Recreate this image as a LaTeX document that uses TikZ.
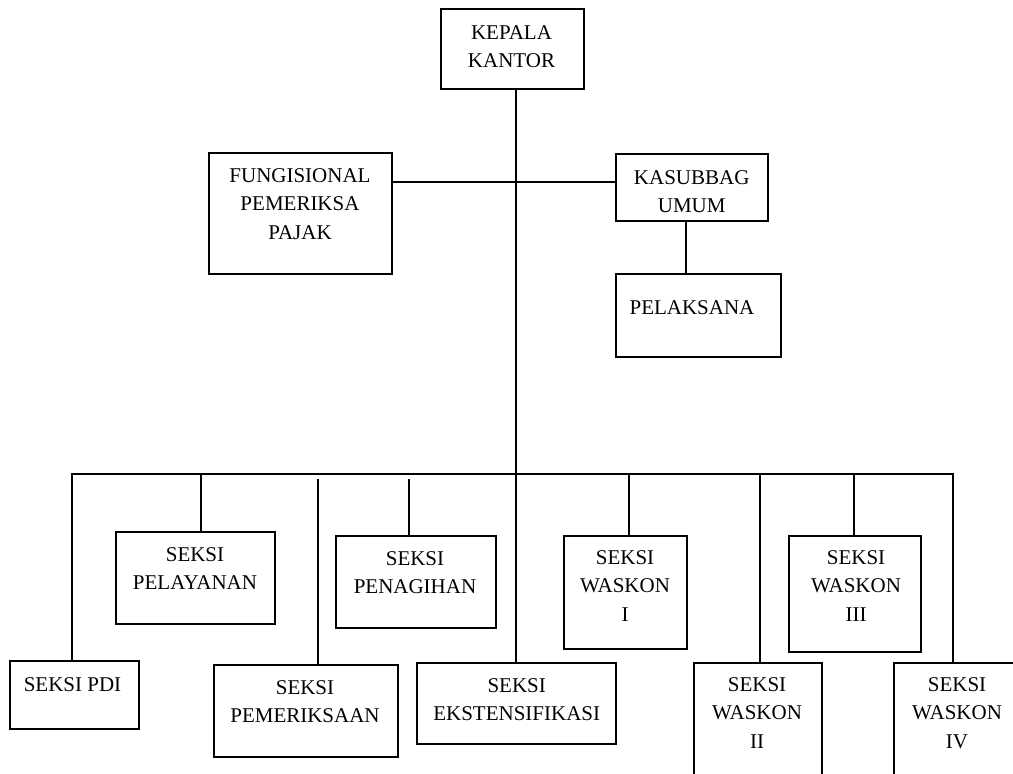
\documentclass[tikz,border=0pt]{standalone}
\usepackage{fontspec}
\setmainfont{Liberation Serif}
\begin{document}
\begin{tikzpicture}[x=1pt,y=-1pt,
  orgbox/.style 2 args={draw, line width=1.3pt, inner sep=0pt, minimum width=#1pt, minimum height=#2pt},
  lbl/.style={font=\fontsize{21}{28.5}\selectfont, align=center, inner sep=0pt, anchor=north},
  conn/.style={line width=1.3pt}]
\useasboundingbox (0,0) rectangle (1013,774);
\clip (0,0) rectangle (1013,774);
% boxes
\node[orgbox={143}{80}]  (kepala) at (512.5,49) {};
\node[orgbox={183}{121}] (fung)   at (300.5,213.5) {};
\node[orgbox={152}{67}]  (kas)    at (692,187.5) {};
\node[orgbox={165}{83}]  (pel)    at (698.5,315.5) {};
\node[orgbox={129}{68}]  (pdi)    at (74.5,695) {};
\node[orgbox={159}{92}]  (pelay)  at (195.5,578) {};
\node[orgbox={160}{92}]  (penag)  at (416,582) {};
\node[orgbox={184}{92}]  (pemer)  at (306,711) {};
\node[orgbox={199}{81}]  (ekst)   at (516.5,703.5) {};
\node[orgbox={123}{113}] (w1)     at (625.5,592.5) {};
\node[orgbox={128}{137}] (w2)     at (758,731.5) {};
\node[orgbox={132}{116}] (w3)     at (855,594) {};
\node[orgbox={131}{137}] (w4)     at (959.5,731.5) {};
% labels
\node[lbl] (tkepala) at (511.5,25) {KEPALA\\KANTOR};
\node[lbl] (tfung)   at (300,168) {FUNGISIONAL\\PEMERIKSA\\PAJAK};
\node[lbl] (tkas)    at (691.7,170) {KASUBBAG\\UMUM};
\node[lbl] (tpel)    at (692,300) {PELAKSANA};
\node[lbl] (tpdi)    at (72.5,677) {SEKSI PDI};
\node[lbl] (tpelay)  at (195,547) {SEKSI\\PELAYANAN};
\node[lbl] (tpenag)  at (415,551) {SEKSI\\PENAGIHAN};
\node[lbl] (tpemer)  at (305,680) {SEKSI\\PEMERIKSAAN};
\node[lbl] (tekst)   at (516.7,678) {SEKSI\\EKSTENSIFIKASI};
\node[lbl] (tw1)     at (625,550) {SEKSI\\WASKON\\I};
\node[lbl] (tw3)     at (856,550) {SEKSI\\WASKON\\III};
\node[lbl] (tw2)     at (757,677) {SEKSI\\WASKON\\II};
\node[lbl] (tw4)     at (957,677) {SEKSI\\WASKON\\IV};
% connectors
\coordinate (bus) at (516,474);
\coordinate (busgap) at (516,479);
\draw[conn] (kepala.south -| bus) -- (ekst.north -| bus);
\draw[conn] ([yshift=-29.5pt]fung.north east) -- ([yshift=-28.5pt]kas.north west);
\draw[conn] ([xshift=-6pt]kas.south) -- ([xshift=-6pt]kas.south |- pel.north);
\draw[conn] ([xshift=-2.5pt]pdi.north) |- ([xshift=-6.5pt]w4.north |- bus) -- ([xshift=-6.5pt]w4.north);
\draw[conn] ([xshift=5.5pt]pelay.north) -- ([xshift=5.5pt]pelay.north |- bus);
\draw[conn] ([xshift=-7pt]penag.north) -- ([xshift=-7pt]penag.north |- busgap);
\draw[conn] ([xshift=12pt]pemer.north) -- ([xshift=12pt]pemer.north |- busgap);
\draw[conn] ([xshift=3.5pt]w1.north) -- ([xshift=3.5pt]w1.north |- bus);
\draw[conn] ([xshift=2pt]w2.north) -- ([xshift=2pt]w2.north |- bus);
\draw[conn] ([xshift=-1pt]w3.north) -- ([xshift=-1pt]w3.north |- bus);
\end{tikzpicture}
\end{document}
